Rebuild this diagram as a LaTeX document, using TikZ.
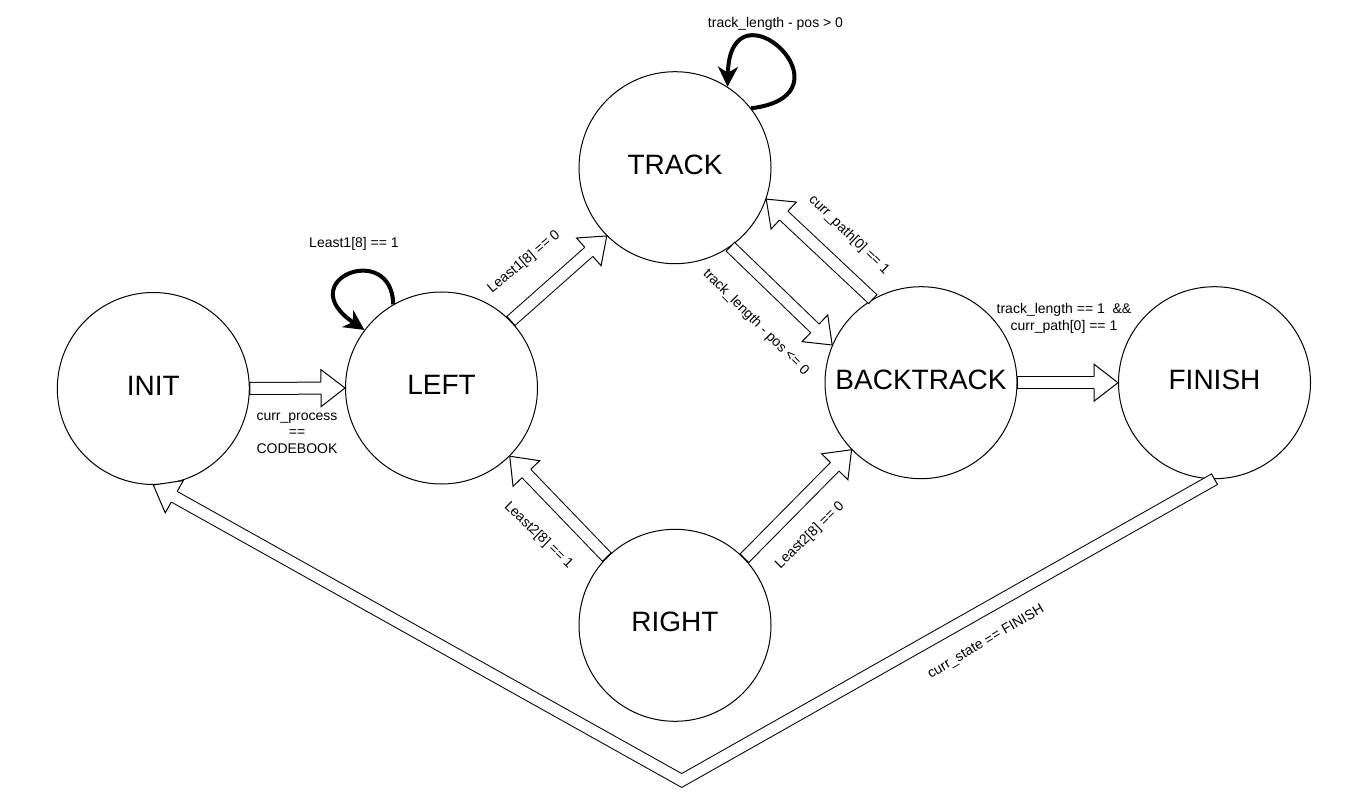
\documentclass[tikz,border=0pt]{standalone}
\usepackage{fontspec}
\setmainfont{Liberation Sans}
\usetikzlibrary{calc,arrows.meta}
\newcommand\flexcap[2]{\draw[line width=1pt] ($(#1)!6.5pt!90:(#2)$) -- ($(#1)!6.5pt!-90:(#2)$);}
\newcommand\flexhead[2]{%
  \coordinate (fxH) at ($(#2)!24pt!(#1)$);
  \fill[white] ($(fxH)!6pt!90:(#2)$) -- ($(fxH)!18.5pt!90:(#2)$) -- (#2) -- ($(fxH)!18.5pt!-90:(#2)$) -- ($(fxH)!6pt!-90:(#2)$) -- cycle;
  \draw[line width=1pt, line join=miter] ($(fxH)!6pt!90:(#2)$) -- ($(fxH)!18.5pt!90:(#2)$) -- (#2) -- ($(fxH)!18.5pt!-90:(#2)$) -- ($(fxH)!6pt!-90:(#2)$);}
\newcommand\flexarrow[2]{%
  \path (#1) coordinate (fxS) (#2) coordinate (fxE);
  \draw[flexshaft] (fxS) -- ($(fxE)!24pt!(fxS)$);
  \flexcap{fxS}{fxE}\flexhead{fxS}{fxE}}
\begin{document}
\begin{tikzpicture}[x=1pt,y=-1pt,
  state/.style={circle, draw, fill=white, line width=1pt, minimum size=192pt, inner sep=0pt,
    font=\fontsize{28}{30}\selectfont, text height=20pt, text depth=7pt},
  lbl/.style={font=\fontsize{14}{16.5}\selectfont, inner sep=0pt, align=center},
  loopline/.style={line width=4pt, -{Stealth[length=20pt,width=20pt,inset=6pt]}},
  flexshaft/.style={line width=1pt, double=white, double distance=11pt, line join=miter}]
\useasboundingbox (0,0) rectangle (1364,799);
\fill[white] (0,0) rectangle (1364,799);

% states
\node[state] (INIT) at (153.3,388.5) {INIT};
\node[state] (LEFT) at (441.5,388) {LEFT};
\node[state] (TRACK) at (675,167.7) {TRACK};
\node[state] (BACKTRACK) at (921,382.7) {BACKTRACK};
\node[state] (FINISH) at (1214.5,382.7) {FINISH};
\node[state] (RIGHT) at (675,625.3) {RIGHT};

% flex arrows
\flexarrow{INIT.east}{LEFT.west}
\flexarrow{LEFT.44}{TRACK.225}
\flexarrow{TRACK.305.5}{BACKTRACK.157.7}
\flexarrow{BACKTRACK.120.6}{TRACK.341}
\flexarrow{RIGHT.135}{LEFT.315}
\flexarrow{RIGHT.44.5}{BACKTRACK.224.5}
\flexarrow{BACKTRACK.east}{FINISH.west}

% bent return arrow
\coordinate (K) at (681.7,780.5);
\draw[flexshaft] (FINISH.south) -- (K) -- ($(INIT.south)!24pt!(K)$);
\flexcap{FINISH.south}{K}
\flexhead{K}{INIT.south}

% self loops
\draw[loopline] (LEFT.120) .. controls (392,240) and (290,280) .. (LEFT.143);
\draw[loopline] (TRACK.38) .. controls (860,95) and (730,-25) .. (TRACK.57);

% labels
\node[lbl] (l1) at (354,244) {Least1[8] == 1};
\node[lbl] (l2) at (775.5,24) {track\_length - pos > 0};
\node[lbl] (l3) at (297,433) {curr\_process\\==\\CODEBOOK};
\node[lbl, rotate=40] (l4) at (524,262) {Least1[8] == 0};
\node[lbl, rotate=-44.4] (l5) at (849,235) {curr\_path[0] == 1};
\node[lbl, rotate=-45] (l6) at (755.8,322.5) {track\_length - pos <= 0};
\node[lbl] (l7) at (1064,318.5) {track\_length == 1 \ \&\&\\curr\_path[0] == 1};
\node[lbl, rotate=-44] (l8) at (538.5,535.5) {Least2[8] == 1};
\node[lbl, rotate=44] (l9) at (810,535.5) {Least2[8] == 0};
\node[lbl, rotate=30.5] (l10) at (986,642) {curr\_state == FINISH};
\end{tikzpicture}
\end{document}
